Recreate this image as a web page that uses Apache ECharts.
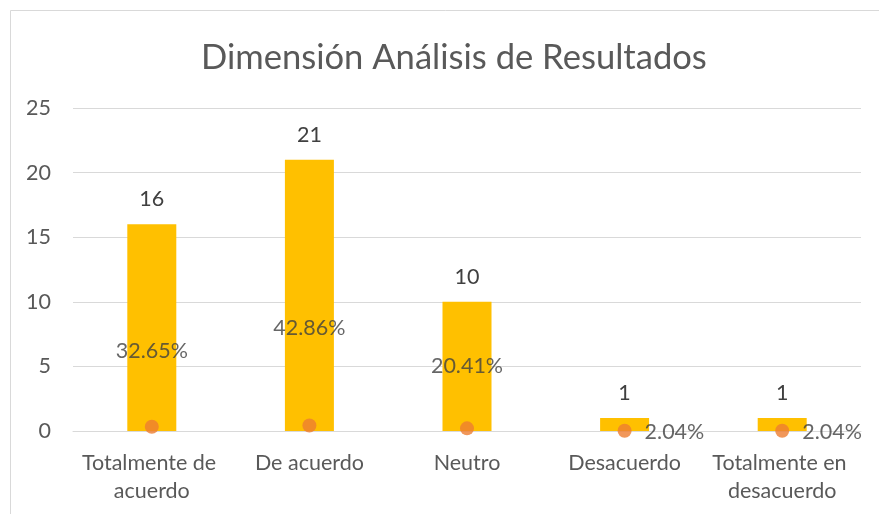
<!DOCTYPE html>
<html>
<head>
<meta charset="utf-8">
<script src="https://cdn.jsdelivr.net/npm/echarts@6/dist/echarts.min.js"></script>
<style>
  html, body { margin: 0; padding: 0; background: #fff; }
  #chart { width: 879px; height: 514px; }
</style>
</head>
<body>
<div id="chart"></div>
<script>
const categories = ["Totalmente de acuerdo", "De acuerdo", "Neutro", "Desacuerdo", "Totalmente en desacuerdo"];
const counts = [16, 21, 10, 1, 1];
const shares = [0.3265, 0.4286, 0.2041, 0.0204, 0.0204];
const shareLabels = ["32.65%", "42.86%", "20.41%", "2.04%", "2.04%"];

// Excel put the percentage labels by hand, so each has its own place
const labelPlaces = [
  { position: "top", offset: [0, -53] },
  { position: "top", offset: [0, -74] },
  { position: "top", offset: [0, -39] },
  { position: "right", offset: [8, 1] },
  { position: "right", offset: [8, 1] },
];

const font = "Lato, 'Noto Sans', sans-serif";
const chart = echarts.init(document.getElementById("chart"));

chart.setOption({
  backgroundColor: "#fff",
  animation: false,
  graphic: [
    {
      type: "rect",
      shape: { x: 10.5, y: 10.5, width: 900, height: 600 },
      style: { fill: "none", stroke: "#D9D9D9", lineWidth: 1 },
      silent: true,
    },
  ],
  title: {
    text: "Dimensión Análisis de Resultados",
    left: 196,
    top: 35,
    textStyle: { fontFamily: font, fontSize: 34.6, fontWeight: "normal", color: "#595959" },
  },
  grid: { left: 73, right: 18, top: 108, bottom: 83 },
  xAxis: {
    type: "category",
    data: categories,
    axisLine: { lineStyle: { color: "#D9D9D9", width: 1 } },
    axisTick: { show: false },
    axisLabel: {
      interval: 0,
      margin: 18,
      width: 152,
      overflow: "break",
      lineHeight: 28,
      fontFamily: font,
      fontSize: 21.5,
      color: "#595959",
    },
  },
  yAxis: {
    type: "value",
    min: 0,
    max: 25,
    interval: 5,
    axisLine: { show: false },
    axisTick: { show: false },
    axisLabel: { margin: 22, fontFamily: font, fontSize: 21.5, color: "#595959" },
    splitLine: { lineStyle: { color: "#D9D9D9", width: 1 } },
  },
  series: [
    {
      name: "Frecuencia",
      type: "bar",
      data: counts,
      barWidth: 49,
      itemStyle: { color: "#FFC000" },
      label: {
        show: true,
        position: "top",
        distance: 14,
        fontFamily: font,
        fontSize: 21.5,
        color: "#404040",
      },
    },
    {
      name: "Porcentaje",
      type: "scatter",
      data: shares.map((v, i) => ({
        value: v,
        label: labelPlaces[i],
      })),
      symbol: "circle",
      symbolSize: 14,
      itemStyle: { color: "#ED7D31" },
      label: {
        show: true,
        formatter: (p) => shareLabels[p.dataIndex],
        fontFamily: font,
        fontSize: 21.5,
        color: "#404040",
      },
      z: 3,
    },
  ],
});
</script>
</body>
</html>
